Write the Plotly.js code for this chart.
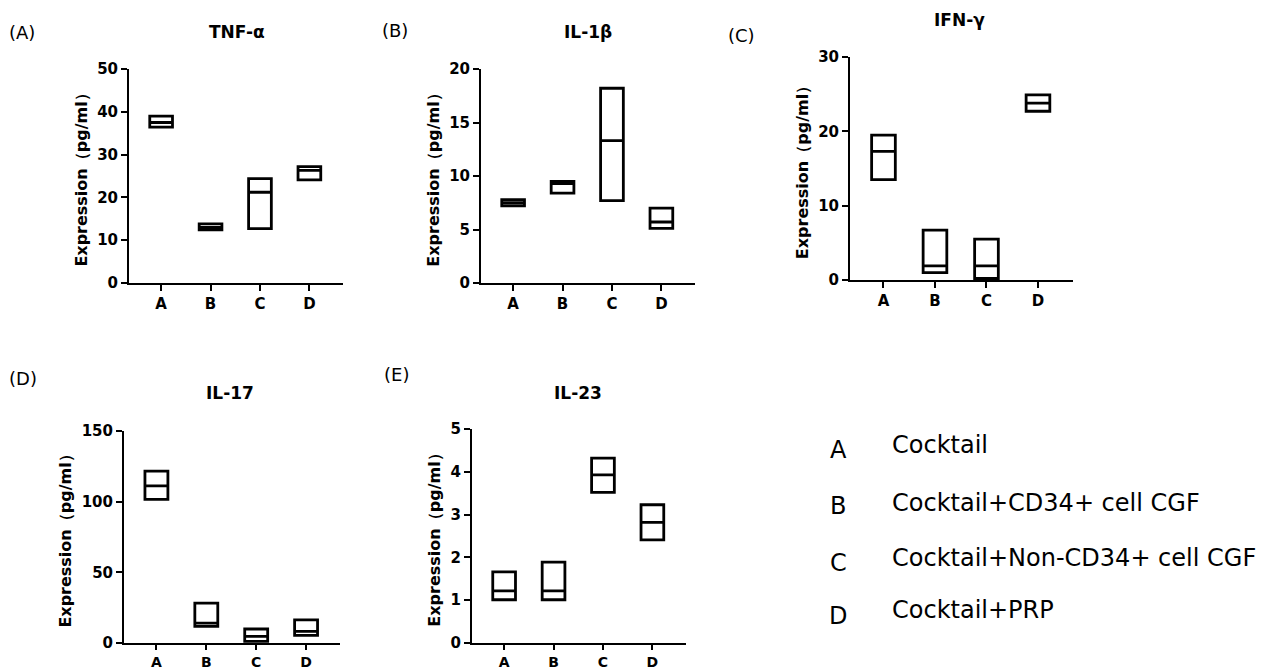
<!DOCTYPE html>
<html>
<head>
<meta charset="utf-8">
<script src="https://cdn.plot.ly/plotly-3.0.1.min.js"></script>
<style>html,body{margin:0;padding:0;background:#fff;} #chart{width:1266px;height:670px;}</style>
</head>
<body>
<div id="chart"></div>
<script>
// ---- data ----
const groups = ['A', 'B', 'C', 'D'];
const groupNames = ['Cocktail', 'Cocktail+CD34+ cell CGF', 'Cocktail+Non-CD34+ cell CGF', 'Cocktail+PRP'];
const panelLetters = ['(A)', '(B)', '(C)', '(D)', '(E)'];
const cytokines = ['TNF-α', 'IL-1β', 'IFN-γ', 'IL-17', 'IL-23'];
const yTitle = 'Expression（pg/ml）';

const tnfMin = [36.4, 12.4, 12.7, 24.1];
const tnfMed = [37.5, 13.0, 21.2, 26.3];
const tnfMax = [39.0, 13.8, 24.4, 27.2];

const il1bMin = [7.2, 8.4, 7.7, 5.1];
const il1bMed = [7.5, 9.3, 13.3, 5.7];
const il1bMax = [7.8, 9.5, 18.2, 7.0];

const ifnMin = [13.5, 1.0, 0.2, 22.7];
const ifnMed = [17.3, 1.9, 1.9, 23.8];
const ifnMax = [19.5, 6.7, 5.5, 24.9];

const il17Min = [101.6, 11.7, 1.1, 5.4];
const il17Med = [111.2, 14.1, 4.7, 8.2];
const il17Max = [121.6, 28.2, 9.9, 16.4];

const il23Min = [1.01, 1.01, 3.52, 2.41];
const il23Med = [1.22, 1.22, 3.93, 2.82];
const il23Max = [1.66, 1.89, 4.32, 3.23];

const yMaxes = [50, 20, 30, 150, 5];
const yDticks = [10, 5, 10, 50, 1];

// ---- layout geometry (pixels) ----
const W = 1266, H = 670;
const panels = [
  {x0: 129, x1: 343, y0: 283, y1: 69,  tx: 237, ty: 32,  lx: 7,   ly: 32,  xfs: 15, tl: 6},
  {x0: 481, x1: 695, y0: 283, y1: 69,  tx: 588, ty: 32,  lx: 380, ly: 30,  xfs: 15, tl: 6},
  {x0: 850, x1: 1073, y0: 280, y1: 57, tx: 959, ty: 20,  lx: 726, ly: 35,  xfs: 15, tl: 6},
  {x0: 124, x1: 340, y0: 643, y1: 431, tx: 230, ty: 393, lx: 7,   ly: 378, xfs: 14, tl: 5},
  {x0: 472, x1: 686, y0: 643, y1: 429, tx: 578, ty: 393, lx: 382, ly: 375, xfs: 14, tl: 5}
];
const series = [
  [tnfMin, tnfMed, tnfMax],
  [il1bMin, il1bMed, il1bMax],
  [ifnMin, ifnMed, ifnMax],
  [il17Min, il17Med, il17Max],
  [il23Min, il23Med, il23Max]
];

const boldFont = 'DejaVu Sans, Liberation Sans, Arial, sans-serif';
const data = [];
const layout = {
  width: W, height: H,
  margin: {l: 0, r: 0, t: 0, b: 0},
  paper_bgcolor: '#fff', plot_bgcolor: '#fff',
  showlegend: false,
  annotations: [],
  font: {family: boldFont, color: '#000'}
};

panels.forEach((p, i) => {
  const n = i === 0 ? '' : String(i + 1);
  const [mn, md, mx] = series[i];
  data.push({
    type: 'box',
    x: groups,
    q1: mn, median: md, q3: mx,
    lowerfence: mn, upperfence: mx,
    width: 0.46,
    whiskerwidth: 0,
    boxpoints: false,
    fillcolor: '#fff',
    line: {color: '#000', width: 2.8},
    hoverinfo: 'skip',
    xaxis: 'x' + n, yaxis: 'y' + n
  });
  layout['xaxis' + n] = {
    domain: [p.x0 / W, p.x1 / W],
    anchor: 'y' + n,
    type: 'category',
    range: [-0.65, 3.68],
    showline: true, linecolor: '#000', linewidth: 2,
    ticks: 'outside', ticklen: p.tl, tickwidth: 2, tickcolor: '#000',
    showgrid: false, zeroline: false, fixedrange: true,
    tickfont: {family: boldFont, size: p.xfs, color: '#000', weight: 'bold'}
  };
  layout['yaxis' + n] = {
    domain: [1 - p.y0 / H, 1 - p.y1 / H],
    anchor: 'x' + n,
    range: [0, yMaxes[i]],
    dtick: yDticks[i],
    showline: true, linecolor: '#000', linewidth: 2,
    ticks: 'outside', ticklen: 6, tickwidth: 2, tickcolor: '#000',
    showgrid: false, zeroline: false, fixedrange: true,
    tickfont: {family: boldFont, size: 15, color: '#000', weight: 'bold'},
    title: {text: yTitle, standoff: 6, font: {family: boldFont, size: 16, color: '#000', weight: 'bold'}}
  };
  layout.annotations.push({
    text: '<b>' + cytokines[i] + '</b>', xref: 'paper', yref: 'paper',
    x: p.tx / W, y: 1 - p.ty / H, xanchor: 'center', yanchor: 'middle',
    showarrow: false, font: {family: boldFont, size: 17, color: '#000'}
  });
  layout.annotations.push({
    text: panelLetters[i], xref: 'paper', yref: 'paper',
    x: p.lx / W, y: 1 - p.ly / H, xanchor: 'left', yanchor: 'middle',
    showarrow: false, font: {family: 'DejaVu Sans, sans-serif', size: 18, color: '#000'}
  });
});

// legend (key of groups)
const keyRowsLetterY = [450, 506, 563, 616];
const keyRowsTextY = [445, 503, 558, 610];
groups.forEach((g, i) => {
  layout.annotations.push({
    text: g, xref: 'paper', yref: 'paper',
    x: 838 / W, y: 1 - keyRowsLetterY[i] / H, xanchor: 'center', yanchor: 'middle',
    showarrow: false, font: {family: 'DejaVu Sans, sans-serif', size: 24, color: '#000'}
  });
  layout.annotations.push({
    text: groupNames[i], xref: 'paper', yref: 'paper',
    x: 890 / W, y: 1 - keyRowsTextY[i] / H, xanchor: 'left', yanchor: 'middle',
    showarrow: false, font: {family: 'DejaVu Sans, sans-serif', size: 24, color: '#000'}
  });
});

Plotly.newPlot('chart', data, layout, {staticPlot: true, displayModeBar: false});
</script>
</body>
</html>
